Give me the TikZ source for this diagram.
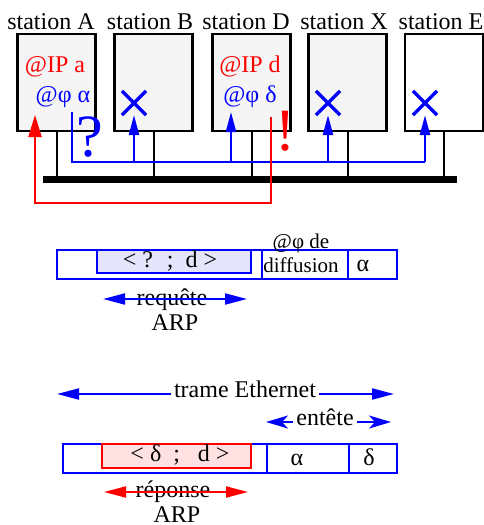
\documentclass[tikz,border=0pt]{standalone}
\usepackage{fontspec}
\setmainfont{Liberation Serif}
\usetikzlibrary{arrows.meta,shapes.misc}
\definecolor{boxgray}{RGB}{245,245,245}
\definecolor{lav}{RGB}{228,228,250}
\definecolor{pinkf}{RGB}{255,225,225}
\begin{document}
\begin{tikzpicture}[x=0.5pt,y=-0.5pt, font=\fontsize{12}{14}\selectfont,
  station/.style={draw, line width=1.3pt, fill=boxgray, minimum width=39pt, minimum height=48.5pt, inner sep=0pt},
  lbl/.style={anchor=base, inner sep=0pt},
  sig/.style={blue, line width=1.2pt},
  bl/.style={-{Triangle[length=10pt,width=5pt]}},
  xmark/.style={cross out, draw=blue, line width=1.6pt, minimum size=10.5pt, inner sep=0pt},
  drop/.style={line width=1pt},
  big/.style={font=\fontsize{30}{30}\selectfont, inner sep=0pt},
  cell/.style={draw=blue, line width=1.1pt, anchor=north west, inner sep=0pt, fill=white, minimum height=14.5pt},
  inbox/.style={line width=1.1pt, anchor=north west, inner sep=0pt, minimum width=77pt, minimum height=11.5pt},
  dim/.style={line width=1pt, {Triangle[length=11pt,width=5.5pt]}-{Triangle[length=11pt,width=5.5pt]}},
  small/.style={font=\fontsize{10.5}{12}\selectfont}]
\useasboundingbox (0,0) rectangle (483,525);

% stations
\node[station] (A) at (56.5,82.5) {};
\node[station] (B) at (153.5,82.5) {};
\node[station] (D) at (251.5,82.5) {};
\node[station] (X) at (347.5,82.5) {};
\node[station, fill=white] (E) at (444,82.5) {};

\node[lbl] (lA) at (51,29) {station A};
\node[lbl] (lB) at (150,29) {station B};
\node[lbl] (lD) at (246,29) {station D};
\node[lbl] (lX) at (344,29) {station X};
\node[lbl] (lE) at (441,29) {station E};

\node[lbl, red] (ipa) at (55,72) {@IP a};
\node[lbl, blue] (pa) at (63,102) {@φ α};
\node[lbl, red] (ipd) at (250,72) {@IP d};
\node[lbl, blue] (pd) at (250,102) {@φ δ};

% bus
\coordinate (busL) at (43,179);
\coordinate (busR) at (457,179);
\draw[line width=3.5pt] (busL) -- (busR);
\foreach \n in {A,B,D,X,E} \draw[drop] (\n.south) -- (\n.south |- busL);

% request broadcast
\node[xmark] (cB) at (134,103) {};
\node[xmark] (cX) at (328,103) {};
\node[xmark] (cE) at (425,103) {};
\coordinate (bs) at (72,112);
\coordinate (be) at (425,162);
\coordinate (dt) at (231,112);
\draw[sig] (bs) |- (be);
\draw[sig, bl] (cB.south |- be) -- (cB.south);
\draw[sig, bl] (dt |- be) -- (dt);
\draw[sig, bl] (cX.south |- be) -- (cX.south);
\draw[sig, bl] (be) -- (cE.south);

\node[big, blue] (q) at (90,137) {?};
\node[big, red] (ex) at (285,131) {!};

% reply
\coordinate (rs) at (271,117);
\coordinate (rb) at (35,203);
\coordinate (rt) at (35,115);
\draw[red, line width=1pt, -{Triangle[length=11pt,width=6.5pt]}] (rs) |- (rb) -- (rt);

% frame 1
\node[cell, minimum width=102.5pt] (f1a) at (56,249) {};
\node[cell, minimum width=43pt] (f1b) at (261,249) {};
\node[cell, minimum width=24.5pt] (f1c) at (347,249) {};
\node[inbox, draw=blue, fill=lav] (f1in) at (96,249) {};
\node[lbl] (t1) at (170,267) {< ? \ ; \ d >};
\node[lbl, small] (t2) at (301,248) {@φ de};
\node[lbl, small] (t3) at (301,272) {diffusion};
\node[lbl] (t4) at (363,271) {α};

\node[lbl] (req) at (172,305) {requête};
\node[lbl] (arp1) at (175,330) {ARP};
\coordinate (r1) at (103,299);
\coordinate (r2) at (247,299);
\draw[dim, blue] (r1) -- (r2);

% trame / entete
\coordinate (te1) at (57,394);
\coordinate (te2) at (394,394);
\draw[dim, blue] (te1) -- (te2);
\node[lbl, fill=white, inner sep=1.5pt] (tet) at (245,397) {trame Ethernet};
\coordinate (en1) at (266,422);
\coordinate (en2) at (391,422);
\draw[blue, line width=1pt, {Stealth[length=11pt,width=6.5pt,inset=3pt]}-{Stealth[length=11pt,width=6.5pt,inset=3pt]}] (en1) -- (en2);
\node[lbl, fill=white, inner sep=1.5pt] (ent) at (325,425) {entête};

% frame 2
\node[cell, minimum width=102pt] (f2a) at (62,443) {};
\node[cell, minimum width=41pt] (f2b) at (266,443) {};
\node[cell, minimum width=24pt] (f2c) at (348,443) {};
\node[inbox, draw=red, fill=pinkf, minimum width=74.5pt, minimum height=12pt] (f2in) at (101,443) {};
\node[lbl] (u1) at (180,461) {< δ \ ; \ \ d >};
\node[lbl] (u2) at (297,465) {α};
\node[lbl] (u3) at (369,465) {δ};

\node[lbl] (rep) at (173,497) {réponse};
\node[lbl] (arp2) at (177,522) {ARP};
\coordinate (p1) at (104,492);
\coordinate (p2) at (248,492);
\draw[dim, red] (p1) -- (p2);
\end{tikzpicture}
\end{document}
